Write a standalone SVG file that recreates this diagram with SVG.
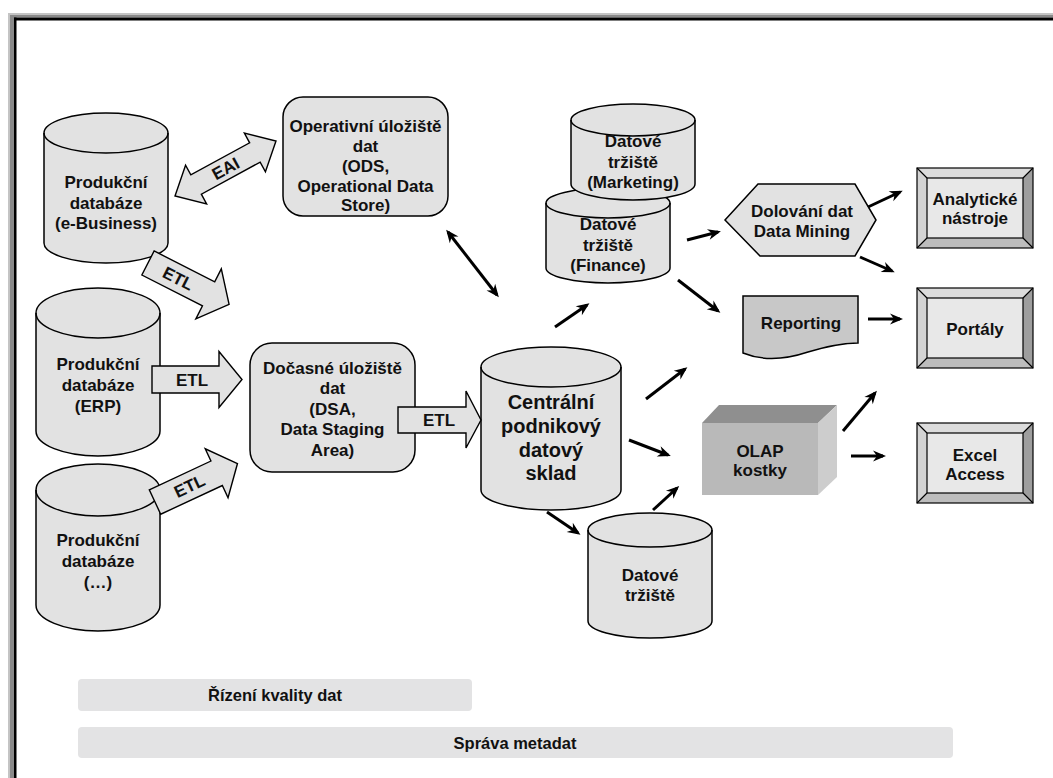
<svg xmlns="http://www.w3.org/2000/svg" width="1053" height="778" viewBox="0 0 1053 778">
  <style>
    .t { font-family: "Liberation Sans", Arial, sans-serif; font-weight: bold; font-size: 17px; text-anchor: middle; fill: #111; }
    .big { font-size: 20px; }
    .bar-t { font-size: 16.5px; }
    .node { fill: #e2e2e2; stroke: #000; stroke-width: 1.5; }
    .rim { fill: none; stroke: #000; stroke-width: 1.5; }
    .fat { fill: #e2e2e2; stroke: #000; stroke-width: 1.4; stroke-linejoin: miter; }
    .link { stroke: #000; stroke-width: 3; fill: none; marker-end: url(#head); }
    .both { marker-start: url(#head); }
    .bar { fill: #e3e3e4; }
    .bv { stroke: #000; stroke-width: 1.2; }
  </style>
  <defs>
    <marker id="head" markerUnits="userSpaceOnUse" viewBox="-14 -7 18 14" markerWidth="18" markerHeight="14" refX="-3" refY="0" orient="auto-start-reverse">
      <path d="M0,0 L-13,-5.5 L-9,0 L-13,5.5 Z" fill="#000"/>
    </marker>
    <!-- bevelled button, 116 x 80 -->
    <g id="button">
      <rect x="0" y="0" width="116" height="80" fill="#e8e8e8"/>
      <polygon points="0,0 116,0 106,10 10,10" fill="#dcdcdc"/>
      <polygon points="0,0 10,10 10,70 0,80" fill="#d3d3d3"/>
      <polygon points="116,0 116,80 106,70 106,10" fill="#9e9e9e"/>
      <polygon points="0,80 116,80 106,70 10,70" fill="#bdbdbd"/>
      <rect x="10" y="10" width="96" height="60" fill="#e8e8e8" class="bv"/>
      <rect x="0" y="0" width="116" height="80" fill="none" class="bv"/>
      <path d="M0,0 L10,10 M116,0 L106,10 M0,80 L10,70 M116,80 L106,70" class="bv"/>
    </g>
  </defs>

  <rect x="0" y="0" width="1053" height="778" fill="#fff"/>

  <!-- window frame -->
  <g id="frame">
    <rect x="8" y="13" width="1045" height="2" fill="#c4c4c4"/>
    <rect x="8" y="13" width="2" height="765" fill="#c4c4c4"/>
    <rect x="10" y="15" width="1043" height="2.5" fill="#8a8a8a"/>
    <rect x="10" y="15" width="4" height="763" fill="#8a8a8a"/>
    <rect x="14" y="17.5" width="1039" height="3" fill="#000"/>
    <rect x="14" y="17.5" width="2.5" height="761" fill="#000"/>
  </g>

  <!-- source databases -->
  <g id="db-ebusiness">
    <path class="node" d="M44,133 L44,243 A62,20 0 0 0 168,243 L168,133 A62,20 0 0 0 44,133 Z"/>
    <path class="rim" d="M44,133 A62,20 0 0 0 168,133"/>
    <text class="t" x="106" y="188">Produkční</text>
    <text class="t" x="106" y="209">databáze</text>
    <text class="t" x="106" y="229">(e-Business)</text>
  </g>
  <g id="db-erp">
    <path class="node" d="M36,313 L36,431 A62,25 0 0 0 160,431 L160,313 A62,25 0 0 0 36,313 Z"/>
    <path class="rim" d="M36,313 A62,25 0 0 0 160,313"/>
    <text class="t" x="98" y="370">Produkční</text>
    <text class="t" x="98" y="391">databáze</text>
    <text class="t" x="98" y="412">(ERP)</text>
  </g>
  <g id="db-other">
    <path class="node" d="M36,490 L36,605 A62,26 0 0 0 160,605 L160,490 A62,26 0 0 0 36,490 Z"/>
    <path class="rim" d="M36,490 A62,26 0 0 0 160,490"/>
    <text class="t" x="98" y="546">Produkční</text>
    <text class="t" x="98" y="567">databáze</text>
    <text class="t" x="98" y="588">(…)</text>
  </g>

  <!-- operational data store -->
  <g id="ods">
    <rect class="node" x="283" y="97" width="165" height="119" rx="20" ry="20"/>
    <text class="t" x="365.5" y="132">Operativní úložiště</text>
    <text class="t" x="365.5" y="152">dat</text>
    <text class="t" x="365.5" y="172">(ODS,</text>
    <text class="t" x="365.5" y="192">Operational Data</text>
    <text class="t" x="365.5" y="211">Store)</text>
  </g>

  <!-- staging area -->
  <g id="dsa">
    <rect class="node" x="250" y="343" width="165" height="129" rx="22" ry="22"/>
    <text class="t" x="332.5" y="374">Dočasné úložiště</text>
    <text class="t" x="332.5" y="394">dat</text>
    <text class="t" x="332.5" y="415">(DSA,</text>
    <text class="t" x="332.5" y="435">Data Staging</text>
    <text class="t" x="332.5" y="456">Area)</text>
  </g>

  <!-- central warehouse -->
  <g id="edw">
    <path class="node" d="M481,367 L481,490 A70,20 0 0 0 621,490 L621,367 A70,20 0 0 0 481,367 Z"/>
    <path class="rim" d="M481,367 A70,20 0 0 0 621,367"/>
    <text class="t big" x="551" y="409">Centrální</text>
    <text class="t big" x="551" y="433">podnikový</text>
    <text class="t big" x="551" y="457">datový</text>
    <text class="t big" x="551" y="480">sklad</text>
  </g>

  <!-- data marts -->
  <g id="mart-finance">
    <path class="node" d="M546,203 L546,268 A62,15 0 0 0 670,268 L670,203 A62,15 0 0 0 546,203 Z"/>
    <path class="rim" d="M546,203 A62,15 0 0 0 670,203"/>
    <text class="t" x="608" y="230">Datové</text>
    <text class="t" x="608" y="251">tržiště</text>
    <text class="t" x="608" y="271">(Finance)</text>
  </g>
  <g id="mart-marketing">
    <path class="node" d="M571,120 L571,184 A62,16 0 0 0 695,184 L695,120 A62,16 0 0 0 571,120 Z"/>
    <path class="rim" d="M571,120 A62,16 0 0 0 695,120"/>
    <text class="t" x="633" y="147">Datové</text>
    <text class="t" x="633" y="168">tržiště</text>
    <text class="t" x="633" y="188">(Marketing)</text>
  </g>
  <g id="mart">
    <path class="node" d="M588,530 L588,621 A62,17 0 0 0 712,621 L712,530 A62,17 0 0 0 588,530 Z"/>
    <path class="rim" d="M588,530 A62,17 0 0 0 712,530"/>
    <text class="t" x="650" y="581">Datové</text>
    <text class="t" x="650" y="601">tržiště</text>
  </g>

  <!-- data mining -->
  <g id="mining">
    <polygon class="node" points="725,220 758,184 855,184 876,220 855,256 760,256"/>
    <text class="t" x="802" y="217">Dolování dat</text>
    <text class="t" x="802" y="237">Data Mining</text>
  </g>

  <!-- reporting document -->
  <g id="reporting">
    <path class="node" style="fill:#c8c8c8" d="M743,296 L858,296 L858,343 C840,343 825,347 808,352 C790,358 765,362 743,353 Z"/>
    <text class="t" x="801" y="329">Reporting</text>
  </g>

  <!-- OLAP cube -->
  <g id="olap">
    <polygon points="702,423 719,405 837,405 818,423" fill="#8f8f8f"/>
    <polygon points="818,423 837,405 837,477 818,495" fill="#cdcdcd"/>
    <rect x="702" y="423" width="116" height="72" fill="#b9b9b9"/>
    <text class="t" x="760" y="457">OLAP</text>
    <text class="t" x="760" y="476">kostky</text>
  </g>

  <!-- front-end tools -->
  <g id="analytics">
    <use href="#button" x="917" y="168"/>
    <text class="t" x="975" y="205">Analytické</text>
    <text class="t" x="975" y="224">nástroje</text>
  </g>
  <g id="portals">
    <use href="#button" x="917" y="288"/>
    <text class="t" x="975" y="335">Portály</text>
  </g>
  <g id="excel">
    <use href="#button" x="917" y="423"/>
    <text class="t" x="975" y="461">Excel</text>
    <text class="t" x="975" y="480">Access</text>
  </g>

  <!-- cross-cutting services -->
  <g id="quality">
    <rect class="bar" x="78" y="679" width="394" height="32" rx="4"/>
    <text class="t bar-t" x="275" y="701">Řízení kvality dat</text>
  </g>
  <g id="metadata">
    <rect class="bar" x="78" y="727" width="875" height="31" rx="4"/>
    <text class="t bar-t" x="515" y="749">Správa metadat</text>
  </g>

  <!-- connectors -->
  <g id="connectors">
    <!-- EAI, two-way -->
    <g transform="translate(225.5,168.5) rotate(-28.6)">
      <polygon class="fat" points="-57.5,0 -33.5,-22 -33.5,-11 33.5,-11 33.5,-22 57.5,0 33.5,22 33.5,11 -33.5,11 -33.5,22"/>
      <text class="t" x="0" y="6">EAI</text>
    </g>
    <!-- ETL loads into the staging area -->
    <g transform="translate(148,263) rotate(27)">
      <polygon class="fat" points="0,-13.5 68,-13.5 68,-28 91,0 68,28 68,13.5 0,13.5"/>
      <text class="t" x="34" y="6">ETL</text>
    </g>
    <g transform="translate(152,379.5) rotate(0)">
      <polygon class="fat" points="0,-13.5 67,-13.5 67,-28 90,0 67,28 67,13.5 0,13.5"/>
      <text class="t" x="40" y="6">ETL</text>
    </g>
    <g transform="translate(155,502) rotate(-25)">
      <polygon class="fat" points="0,-13.5 68,-13.5 68,-27 91,0 68,27 68,13.5 0,13.5"/>
      <text class="t" x="38" y="6">ETL</text>
    </g>
    <!-- ETL into the warehouse -->
    <g transform="translate(398,420)">
      <polygon class="fat" points="0,-13 68,-13 68,-29 83,0 68,28 68,13 0,13"/>
      <text class="t" x="41" y="6">ETL</text>
    </g>

    <line class="link both" x1="448" y1="232" x2="497" y2="295"/>
    <line class="link" x1="555" y1="327" x2="587" y2="305"/>
    <line class="link" x1="646" y1="399" x2="685" y2="369"/>
    <line class="link" x1="629" y1="440" x2="668" y2="455"/>
    <line class="link" x1="547" y1="512" x2="578" y2="533"/>
    <line class="link" x1="653" y1="510" x2="677" y2="488"/>
    <line class="link" x1="687" y1="240" x2="718" y2="232"/>
    <line class="link" x1="678" y1="280" x2="718" y2="311"/>
    <line class="link" x1="868" y1="207" x2="900" y2="192"/>
    <line class="link" x1="860" y1="257" x2="892" y2="271"/>
    <line class="link" x1="868" y1="319" x2="900" y2="319"/>
    <line class="link" x1="843" y1="431" x2="875" y2="393"/>
    <line class="link" x1="851" y1="456" x2="883" y2="456"/>
  </g>
</svg>
